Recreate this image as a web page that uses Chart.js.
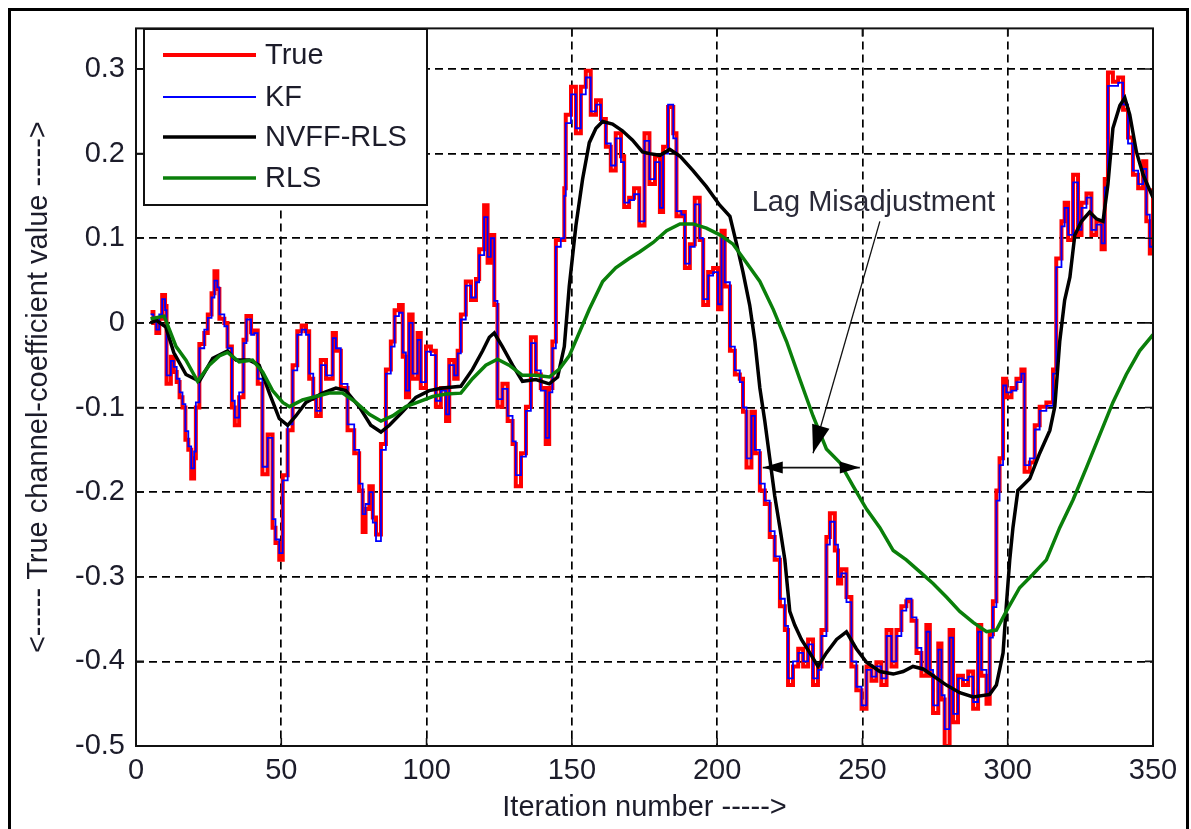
<!DOCTYPE html>
<html>
<head>
<meta charset="utf-8">
<title>True channel-coefficient tracking</title>
<script src="https://cdn.jsdelivr.net/npm/chart.js@4.4.1/dist/chart.umd.min.js"></script>
<style>
  html, body { margin: 0; padding: 0; background: #fff; }
  #wrap { width: 1191px; height: 829px; }
</style>
</head>
<body>
<div id="wrap"><canvas id="chart" width="1191" height="829"></canvas></div>
<script>
// Axis ticks
const xTicks = [0, 50, 100, 150, 200, 250, 300, 350];
const yTicks = [-0.5, -0.4, -0.3, -0.2, -0.1, 0, 0.1, 0.2, 0.3];

// True channel and KF estimate share the same iteration numbers
const iters = [
  5, 6, 7, 8, 9, 10, 10.5, 12, 13, 14,
  15, 16, 17, 18, 19, 20, 20.6, 21.8, 23.5, 24.7,
  26, 27, 28, 28.7, 30.4, 31.5, 33, 34, 35.5, 37,
  38, 39.6, 40.7, 41.9, 43.5, 45.3, 47, 48, 49.3, 50.5,
  52.2, 53.9, 55.5, 57, 58.5, 59.6, 61, 62, 63.6, 65.4,
  67.7, 68.8, 70.5, 72.8, 75.1, 76.8, 78, 79, 80.3, 81.5,
  82.6, 84.3, 86, 87.7, 89, 90.5, 91.8, 92.9, 94, 95.2,
  96.9, 98, 99.8, 101.5, 103.2, 104.9, 106.7, 107.8, 109.5, 110.7,
  111.8, 113.5, 115.3, 117, 118.1, 119.8, 121, 122.1, 123.3, 124.4,
  126.1, 127.9, 129.6, 130.7, 132.5, 134.2, 135.9, 137.6, 139.3, 141,
  142.2, 143.3, 144.5, 146.2, 147.4, 147.9, 149.7, 151.4, 153.1, 154.8,
  156.5, 158.3, 160, 161.7, 163.4, 165.1, 166.9, 168, 169.7, 171.4,
  173.2, 175, 176.7, 178.6, 180.3, 181.4, 183.1, 184.9, 186, 187.7,
  188.9, 190.6, 192.3, 194, 195.2, 196.9, 198.6, 200.3, 201.5, 202.6,
  204.4, 206.1, 207.8, 208.9, 210.1, 211.8, 213, 214.7, 216.4, 218.1,
  219.8, 221.6, 223.3, 224.4, 226.1, 227.9, 229.6, 231.3, 233, 234.7,
  235.9, 237.6, 238.8, 240.5, 241.6, 242.7, 244.5, 246.2, 247.9, 249.7,
  251.4, 253.1, 254.8, 256.5, 258.3, 260, 261.7, 263.4, 265.1, 266.9,
  268.6, 270.3, 272, 273.2, 274.3, 276.1, 277.2, 278.3, 280, 281.2,
  282.9, 284.6, 286.4, 288.1, 289.8, 290.9, 292.7, 293.8, 294.9, 296.1,
  297.2, 298.4, 299.5, 301.3, 303, 304.7, 305.8, 307.6, 309.3, 311,
  313.3, 315.6, 316.7, 318.5, 319.6, 320.8, 322.5, 324.2, 325.4, 327.1,
  328.8, 330.5, 332.3, 333.4, 334.5, 336.2, 338, 339.7, 341.4, 343.1,
  344.9, 346.6, 347.7, 348.9, 350
];

const trueVals = [
  0.013, 0.0, -0.012, 0.005, 0.033, 0.02, -0.072, -0.04, -0.058, -0.07,
  -0.088, -0.1, -0.138, -0.15, -0.184, -0.16, -0.1, -0.025, -0.012, 0.01,
  0.035, 0.061, 0.04, 0.005, 0.0, -0.028, -0.1, -0.121, -0.088, -0.02,
  0.008, -0.011, -0.009, -0.072, -0.179, -0.132, -0.242, -0.26, -0.28, -0.18,
  -0.127, -0.05, -0.01, -0.003, -0.01, -0.066, -0.09, -0.11, -0.044, -0.066,
  -0.012, -0.033, -0.077, -0.127, -0.154, -0.198, -0.247, -0.22, -0.193, -0.23,
  -0.25, -0.143, -0.055, -0.022, 0.015, 0.021, -0.04, -0.088, 0.01, -0.066,
  -0.012, -0.077, -0.028, -0.033, -0.099, -0.077, -0.116, -0.044, -0.066, -0.033,
  0.01, 0.049, 0.027, 0.052, 0.087, 0.139, 0.071, 0.104, 0.021, -0.099,
  -0.072, -0.116, -0.143, -0.193, -0.154, -0.099, -0.017, -0.061, -0.077, -0.143,
  -0.077, -0.022, 0.098, 0.098, 0.159, 0.246, 0.279, 0.224, 0.279, 0.298,
  0.246, 0.263, 0.241, 0.208, 0.18, 0.224, 0.197, 0.137, 0.148, 0.159,
  0.115, 0.224, 0.164, 0.197, 0.131, 0.208, 0.255, 0.224, 0.126, 0.131,
  0.065, 0.093, 0.148, 0.098, 0.021, 0.06, 0.065, 0.016, 0.109, 0.043,
  -0.033, -0.061, -0.066, -0.105, -0.171, -0.105, -0.154, -0.198, -0.214, -0.253,
  -0.28, -0.335, -0.363, -0.428, -0.406, -0.385, -0.406, -0.374, -0.428, -0.406,
  -0.363, -0.253, -0.225, -0.269, -0.308, -0.291, -0.324, -0.406, -0.434, -0.456,
  -0.406, -0.423, -0.401, -0.428, -0.363, -0.406, -0.363, -0.335, -0.329, -0.352,
  -0.39, -0.417, -0.357, -0.417, -0.461, -0.379, -0.445, -0.5, -0.363, -0.472,
  -0.417, -0.428, -0.412, -0.456, -0.357, -0.417, -0.45, -0.368, -0.329, -0.198,
  -0.16, -0.066, -0.088, -0.077, -0.066, -0.055, -0.176, -0.165, -0.121, -0.099,
  -0.094, -0.055, 0.076, 0.12, 0.142, 0.098, 0.175, 0.104, 0.142, 0.153,
  0.104, 0.12, 0.087, 0.17, 0.296, 0.285, 0.29, 0.252, 0.219, 0.175,
  0.159, 0.191, 0.12, 0.082, 0.159
];

const kfVals = [
  0.01, 0.002, -0.008, 0.01, 0.028, 0.015, -0.062, -0.045, -0.052, -0.066,
  -0.082, -0.096, -0.128, -0.146, -0.172, -0.152, -0.094, -0.03, -0.008, 0.006,
  0.03, 0.05, 0.042, 0.01, -0.004, -0.03, -0.092, -0.112, -0.082, -0.024,
  0.004, -0.014, -0.012, -0.066, -0.17, -0.136, -0.232, -0.256, -0.272, -0.186,
  -0.12, -0.056, -0.014, -0.008, -0.014, -0.06, -0.086, -0.104, -0.05, -0.062,
  -0.018, -0.03, -0.072, -0.12, -0.15, -0.19, -0.226, -0.214, -0.2, -0.236,
  -0.258, -0.15, -0.06, -0.028, 0.008, 0.012, -0.035, -0.08, 0.0, -0.06,
  -0.02, -0.07, -0.034, -0.038, -0.092, -0.08, -0.108, -0.05, -0.062, -0.036,
  0.004, 0.044, 0.03, 0.048, 0.08, 0.125, 0.078, 0.1, 0.026, -0.09,
  -0.078, -0.11, -0.14, -0.18, -0.158, -0.104, -0.024, -0.056, -0.08, -0.136,
  -0.082, -0.03, 0.09, 0.1, 0.15, 0.236, 0.27, 0.23, 0.27, 0.29,
  0.25, 0.258, 0.236, 0.212, 0.186, 0.218, 0.19, 0.142, 0.145, 0.152,
  0.12, 0.215, 0.17, 0.19, 0.136, 0.2, 0.258, 0.218, 0.132, 0.128,
  0.07, 0.09, 0.14, 0.1, 0.028, 0.056, 0.06, 0.022, 0.1, 0.048,
  -0.028, -0.056, -0.07, -0.1, -0.16, -0.11, -0.15, -0.19, -0.21, -0.246,
  -0.276, -0.326, -0.358, -0.42, -0.4, -0.39, -0.4, -0.38, -0.42, -0.41,
  -0.37, -0.262, -0.235, -0.262, -0.3, -0.296, -0.33, -0.4, -0.43, -0.452,
  -0.41, -0.418, -0.406, -0.42, -0.37, -0.4, -0.37, -0.34, -0.326, -0.348,
  -0.384, -0.41, -0.365, -0.41, -0.452, -0.386, -0.44, -0.48, -0.372, -0.462,
  -0.42, -0.422, -0.418, -0.448, -0.365, -0.41, -0.44, -0.372, -0.336, -0.21,
  -0.168, -0.074, -0.082, -0.08, -0.07, -0.06, -0.168, -0.16, -0.126, -0.104,
  -0.098, -0.06, 0.066, 0.114, 0.136, 0.104, 0.166, 0.11, 0.136, 0.148,
  0.11, 0.116, 0.094, 0.16, 0.28, 0.28, 0.284, 0.258, 0.212, 0.18,
  0.164, 0.182, 0.128, 0.09, 0.15
];

// NVFF-RLS estimate
const nvffIters = [
  5, 7, 10.3, 13, 17.2, 21.8, 26.4, 31.5, 34.4, 39,
  42.4, 45.9, 49.3, 52.2, 55, 58.5, 64.2, 68.8, 72.2, 76.8,
  80.8, 84.3, 87.2, 91.7, 96.3, 100.9, 105.5, 111.8, 115.8, 119.3,
  121.6, 123.3, 126.1, 129.6, 133, 137.6, 142.2, 145.1, 147.4, 149.1,
  151.4, 153.7, 156, 158.3, 160.6, 164, 167.4, 170.9, 174.3, 176.8,
  180.3, 183.7, 187.2, 191.7, 196.3, 200.9, 204.4, 206.7, 208.9, 211.2,
  213, 214.7, 216.4, 218.1, 219.8, 221.6, 223.3, 225, 226.7, 229,
  231.9, 234.7, 237.6, 241.1, 244.5, 247.9, 251.4, 256, 260.6, 264,
  267.4, 270.9, 274.3, 278.9, 283.5, 288.1, 293.8, 296.1, 298.4, 299.5,
  300.7, 301.8, 303.5, 305.3, 307.6, 311, 314.5, 316.2, 317.9, 319.6,
  321.4, 323.1, 325.4, 328.2, 330.5, 332.8, 334.5, 336.2, 338.6, 340.3,
  342, 344.3, 346.6, 350
];
const nvffVals = [
  0.0, 0.003, -0.005, -0.035, -0.061, -0.069, -0.042, -0.033, -0.044, -0.044,
  -0.05, -0.083, -0.113, -0.121, -0.11, -0.094, -0.083, -0.077, -0.08, -0.099,
  -0.121, -0.129, -0.121, -0.105, -0.088, -0.08, -0.077, -0.075, -0.055, -0.033,
  -0.017, -0.012, -0.028, -0.05, -0.069, -0.067, -0.072, -0.064, -0.028, 0.043,
  0.115, 0.17, 0.213, 0.23, 0.238, 0.235, 0.227, 0.216, 0.202, 0.2,
  0.198, 0.205, 0.197, 0.18, 0.161, 0.139, 0.126, 0.093, 0.06, 0.021,
  -0.022, -0.077, -0.116, -0.16, -0.204, -0.242, -0.28, -0.341, -0.357, -0.374,
  -0.39, -0.406, -0.39, -0.374, -0.365, -0.385, -0.401, -0.412, -0.415, -0.412,
  -0.406, -0.409, -0.417, -0.428, -0.437, -0.442, -0.439, -0.428, -0.39, -0.335,
  -0.28, -0.242, -0.198, -0.192, -0.184, -0.154, -0.127, -0.099, -0.022, 0.027,
  0.054, 0.104, 0.12, 0.131, 0.123, 0.12, 0.164, 0.23, 0.257, 0.266,
  0.246, 0.202, 0.175, 0.148
];

// Standard RLS estimate
const rlsIters = [
  5, 9.7, 13.8, 17.2, 21.2, 25.2, 28.7, 31.5, 35.5, 40.1,
  43.6, 47, 50.5, 52.8, 57.3, 61.9, 66.5, 71.1, 75.7, 80.3,
  84.3, 88.3, 92.9, 97.5, 102.1, 106.7, 111.8, 115.8, 120.4, 124.4,
  128.4, 133, 137.6, 142.2, 145.6, 149.1, 152.5, 156, 160.6, 165.1,
  169.7, 173.4, 178, 182.6, 187.2, 191.7, 196.3, 200.9, 205.5, 210.1,
  214.7, 219.3, 223.9, 228.4, 233, 237.6, 242.2, 246.8, 251.4, 256,
  260.6, 265.1, 269.7, 274.3, 278.9, 283.5, 288.1, 292.7, 296.1, 299.5,
  304.1, 308.7, 313.3, 317.9, 322.5, 327.1, 331.7, 336.2, 340.8, 345.4,
  350
];
const rlsVals = [
  0.005, 0.008, -0.028, -0.044, -0.069, -0.05, -0.039, -0.035, -0.046, -0.044,
  -0.058, -0.08, -0.094, -0.099, -0.091, -0.087, -0.083, -0.083, -0.094, -0.108,
  -0.116, -0.11, -0.099, -0.093, -0.087, -0.084, -0.083, -0.066, -0.05, -0.043,
  -0.05, -0.062, -0.062, -0.064, -0.055, -0.039, -0.012, 0.016, 0.049, 0.065,
  0.076, 0.084, 0.095, 0.109, 0.117, 0.117, 0.112, 0.104, 0.093, 0.071,
  0.049, 0.016, -0.022, -0.066, -0.11, -0.149, -0.165, -0.193, -0.22, -0.242,
  -0.269, -0.28, -0.294, -0.308, -0.324, -0.341, -0.354, -0.365, -0.363, -0.341,
  -0.313, -0.297, -0.28, -0.242, -0.209, -0.171, -0.132, -0.094, -0.061, -0.033,
  -0.014
];

const seriesLabels = ['True', 'KF', 'NVFF-RLS', 'RLS'];
const noteText = 'Lag Misadjustment';

const FONT = "'Liberation Sans', Arial, sans-serif";
const TEXT = '#1c1c2a';

function pts(xs, ys) {
  return xs.map((x, i) => ({ x: x, y: ys[i] }));
}

function arrowHead(ctx, fx, fy, tx, ty, len, half) {
  const ang = Math.atan2(ty - fy, tx - fx);
  ctx.beginPath();
  ctx.moveTo(tx, ty);
  ctx.lineTo(tx - len * Math.cos(ang) + half * Math.sin(ang), ty - len * Math.sin(ang) - half * Math.cos(ang));
  ctx.lineTo(tx - len * Math.cos(ang) - half * Math.sin(ang), ty - len * Math.sin(ang) + half * Math.cos(ang));
  ctx.closePath();
  ctx.fill();
}

// frame, axes box, inward ticks, legend and the lag annotation
const overlay = {
  id: 'overlay',
  beforeDraw(chart) {
    const ctx = chart.ctx;
    ctx.save();
    ctx.fillStyle = '#fff';
    ctx.fillRect(0, 0, chart.width, chart.height);
    ctx.strokeStyle = '#000';
    ctx.lineWidth = 3;
    ctx.beginPath();
    ctx.moveTo(9.5, chart.height);
    ctx.lineTo(9.5, 9.5);
    ctx.lineTo(1187.5, 9.5);
    ctx.lineTo(1187.5, chart.height);
    ctx.stroke();
    ctx.restore();
  },
  afterDatasetsDraw(chart) {
    const { ctx, chartArea: a } = chart;
    const x = chart.scales.x, y = chart.scales.y;
    ctx.save();

    // axes box
    ctx.strokeStyle = '#111';
    ctx.lineWidth = 2;
    ctx.strokeRect(a.left, a.top, a.right - a.left, a.bottom - a.top);

    // ticks pointing inward
    ctx.lineWidth = 1.6;
    ctx.beginPath();
    xTicks.forEach(v => {
      const px = x.getPixelForValue(v);
      ctx.moveTo(px, a.bottom); ctx.lineTo(px, a.bottom - 8);
      ctx.moveTo(px, a.top); ctx.lineTo(px, a.top + 8);
    });
    yTicks.forEach(v => {
      const py = y.getPixelForValue(v);
      ctx.moveTo(a.left, py); ctx.lineTo(a.left + 8, py);
      ctx.moveTo(a.right, py); ctx.lineTo(a.right - 8, py);
    });
    ctx.stroke();

    // annotation text
    ctx.fillStyle = '#2a2a38';
    ctx.font = '29px ' + FONT;
    ctx.textAlign = 'left';
    ctx.textBaseline = 'middle';
    ctx.fillText(noteText, x.getPixelForValue(211.9), y.getPixelForValue(0.142));

    // pointer from text to the RLS curve
    const sx = x.getPixelForValue(256), sy = y.getPixelForValue(0.12);
    const tx = x.getPixelForValue(233), ty = y.getPixelForValue(-0.154);
    ctx.strokeStyle = '#111';
    ctx.fillStyle = '#000';
    ctx.lineWidth = 1.3;
    ctx.beginPath(); ctx.moveTo(sx, sy); ctx.lineTo(tx, ty); ctx.stroke();
    arrowHead(ctx, sx, sy, tx, ty, 28, 9);

    // double arrow showing the lag
    const lx = x.getPixelForValue(215.7), rx = x.getPixelForValue(249.1), ay = y.getPixelForValue(-0.171);
    ctx.lineWidth = 1.8;
    ctx.beginPath(); ctx.moveTo(lx, ay); ctx.lineTo(rx, ay); ctx.stroke();
    arrowHead(ctx, rx, ay, lx, ay, 20, 6);
    arrowHead(ctx, lx, ay, rx, ay, 20, 6);

    // legend
    const lg = { left: 144, top: 29, right: 427, bottom: 205 };
    const rows = [55, 97, 137, 178];
    ctx.fillStyle = '#fff';
    ctx.fillRect(lg.left, lg.top, lg.right - lg.left, lg.bottom - lg.top);
    ctx.strokeStyle = '#111';
    ctx.lineWidth = 2;
    ctx.strokeRect(lg.left, lg.top, lg.right - lg.left, lg.bottom - lg.top);
    chart.data.datasets.forEach((ds, i) => {
      ctx.strokeStyle = ds.borderColor;
      ctx.lineWidth = ds.borderWidth;
      ctx.beginPath();
      ctx.moveTo(163, rows[i]); ctx.lineTo(256, rows[i]);
      ctx.stroke();
      ctx.fillStyle = TEXT;
      ctx.font = '29px ' + FONT;
      ctx.textAlign = 'left';
      ctx.textBaseline = 'middle';
      ctx.fillText(ds.label, 265, rows[i] + 1);
    });

    ctx.restore();
  }
};

const tickFont = { family: FONT, size: 29 };

new Chart(document.getElementById('chart'), {
  type: 'line',
  data: {
    datasets: [
      { label: seriesLabels[0], data: pts(iters, trueVals), borderColor: '#ff0000', borderWidth: 4, stepped: true, order: 4 },
      { label: seriesLabels[1], data: pts(iters, kfVals), borderColor: '#0000ff', borderWidth: 1.8, stepped: true, order: 3 },
      { label: seriesLabels[2], data: pts(nvffIters, nvffVals), borderColor: '#000000', borderWidth: 3.5, order: 2 },
      { label: seriesLabels[3], data: pts(rlsIters, rlsVals), borderColor: '#0a7f0a', borderWidth: 3.5, order: 1 }
    ]
  },
  options: {
    responsive: false,
    animation: false,
    events: [],
    elements: { point: { radius: 0 }, line: { tension: 0, fill: false } },
    layout: { padding: { left: 0, top: 21, right: 38, bottom: 0 } },
    plugins: { legend: { display: false }, tooltip: { enabled: false } },
    scales: {
      x: {
        type: 'linear',
        min: 0,
        max: 350,
        afterBuildTicks: s => { s.ticks = xTicks.map(v => ({ value: v })); },
        afterFit: s => { s.height = 83; },
        grid: { color: '#000', lineWidth: 1.7, drawTicks: false },
        border: { display: false, dash: [8, 5] },
        ticks: { font: tickFont, color: TEXT, padding: 8, maxRotation: 0, autoSkip: false },
        title: { display: true, text: 'Iteration number ----->', font: tickFont, color: TEXT, padding: { top: 0, bottom: 4 } }
      },
      y: {
        type: 'linear',
        min: -0.5,
        max: 0.348,
        afterBuildTicks: s => { s.ticks = yTicks.map(v => ({ value: v })); },
        afterFit: s => { s.width = 136; },
        grid: { color: '#000', lineWidth: 1.7, drawTicks: false },
        border: { display: false, dash: [8, 5] },
        ticks: { font: tickFont, color: TEXT, padding: 11, autoSkip: false, callback: v => String(v) },
        title: { display: true, text: '<----- True channel-coefficient value ----->', font: tickFont, color: TEXT, padding: { top: 22, bottom: 0 } }
      }
    }
  },
  plugins: [overlay]
});
</script>
</body>
</html>
